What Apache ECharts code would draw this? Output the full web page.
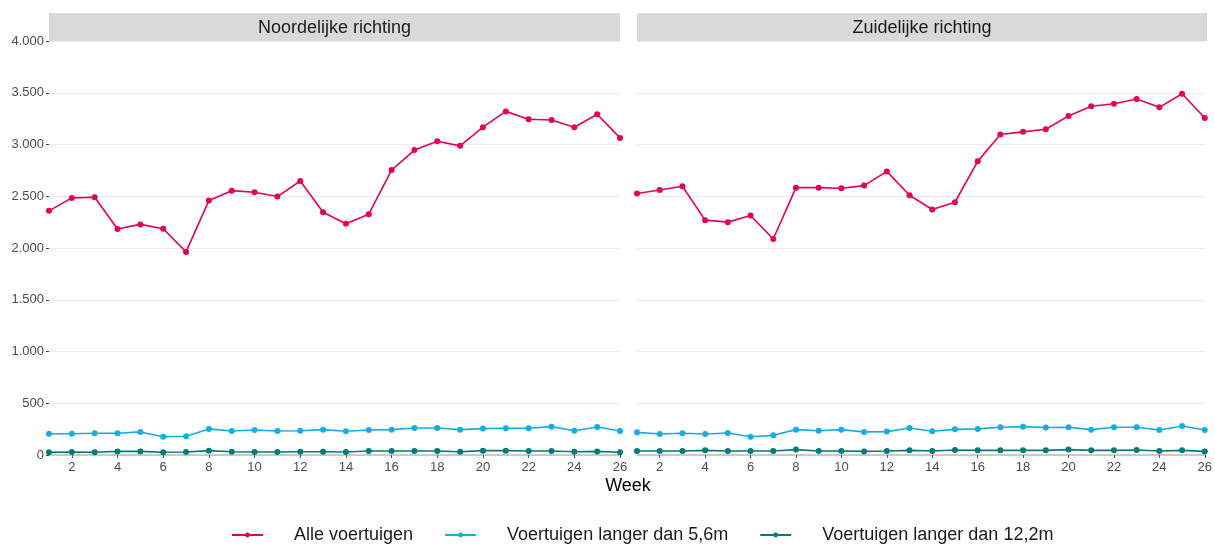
<!DOCTYPE html>
<html lang="nl">
<head>
    <meta charset="UTF-8">
    <title>Voertuigen per week</title>
    <script src="https://cdn.jsdelivr.net/npm/echarts@6/dist/echarts.min.js"></script>
    <style>
        body { margin: 0; background: #fff; }
        #main { width: 1215px; height: 545px; }
    </style>
</head>
<body>
<div id="main"></div>
<script type="text/javascript">
// weken
let weeks = [];
for (let w = 1; w <= 26; w++) weeks.push(w);

let panels = ['Noordelijke richting', 'Zuidelijke richting'];
let seriesNames = ['Alle voertuigen', 'Voertuigen langer dan 5,6m', 'Voertuigen langer dan 12,2m'];

// noordelijke richting
let noordAlle = [2359, 2484, 2490, 2183, 2228, 2186, 1962, 2458, 2554, 2538, 2497, 2647, 2346,
    2234, 2327, 2753, 2946, 3032, 2987, 3167, 3320, 3244, 3237, 3167, 3292, 3064];
let noord56 = [206, 206, 210, 210, 223, 177, 181, 252, 232, 242, 232, 235, 245,
    229, 242, 245, 261, 261, 245, 255, 258, 258, 274, 235, 271, 232];
let noord122 = [26, 29, 26, 35, 35, 26, 29, 42, 32, 29, 29, 32, 32,
    29, 39, 39, 39, 39, 32, 42, 42, 39, 39, 32, 35, 26];

// zuidelijke richting
let zuidAlle = [2526, 2561, 2596, 2269, 2250, 2314, 2087, 2583, 2583, 2577, 2603, 2740, 2510,
    2372, 2442, 2837, 3096, 3122, 3147, 3276, 3369, 3394, 3439, 3359, 3490, 3256];
let zuid56 = [219, 203, 210, 203, 213, 177, 190, 245, 235, 245, 223, 226, 261,
    229, 248, 252, 268, 274, 265, 268, 245, 268, 268, 242, 281, 242];
let zuid122 = [39, 39, 39, 45, 39, 39, 39, 52, 39, 39, 35, 39, 45,
    39, 48, 45, 45, 45, 45, 52, 45, 45, 48, 39, 45, 35];

let colors = ['#E5005B', '#14ADE6', '#007B7B'];

function fmt(v) {
    return String(v).replace(/\B(?=(\d{3})+(?!\d))/g, '.');
}

let myChart = echarts.init(document.getElementById('main'));

function xAxisFor(idx) {
    return {
        type: 'category',
        gridIndex: idx,
        data: weeks,
        boundaryGap: false,
        axisLine: { show: true, lineStyle: { color: '#BDBDBD', width: 1.5 } },
        axisTick: {
            show: true,
            length: 3,
            interval: function (i) { return i % 2 === 1; },
            lineStyle: { color: '#555' }
        },
        axisLabel: {
            interval: function (i) { return i % 2 === 1; },
            color: '#4D4D4D',
            fontSize: 13,
            fontFamily: 'Liberation Sans',
            margin: 6
        },
        splitLine: { show: false }
    };
}

function yAxisFor(idx) {
    return {
        type: 'value',
        gridIndex: idx,
        min: 0,
        max: 4000,
        interval: 500,
        axisLine: { show: false },
        axisTick: { show: idx === 0, length: 3, lineStyle: { color: '#444' } },
        axisLabel: {
            show: idx === 0,
            color: '#4D4D4D',
            fontSize: 13,
            fontFamily: 'Liberation Sans',
            margin: 5,
            formatter: function (v) { return fmt(v); }
        },
        splitLine: { show: true, lineStyle: { color: '#EBEBEB', width: 1 } }
    };
}

function lineSeries(name, data, color, idx) {
    return {
        name: name,
        type: 'line',
        xAxisIndex: idx,
        yAxisIndex: idx,
        data: data,
        symbol: 'circle',
        symbolSize: 6,
        showSymbol: true,
        itemStyle: { color: color },
        lineStyle: { color: color, width: 1.6 },
        z: 3
    };
}

let option = {
    backgroundColor: '#fff',
    animation: false,
    color: colors,
    grid: [
        { left: 49, right: 595, top: 41, bottom: 90 },
        { left: 637, right: 8, top: 41, bottom: 90 }
    ],
    xAxis: [xAxisFor(0), xAxisFor(1)],
    yAxis: [yAxisFor(0), yAxisFor(1)],
    legend: {
        data: seriesNames,
        top: 521,
        left: 226,
        itemWidth: 31,
        itemHeight: 6,
        itemGap: 31,
        textStyle: { color: '#1A1A1A', fontSize: 18, fontFamily: 'Liberation Sans', padding: [0, 0, 0, 26] }
    },
    graphic: [
        { type: 'rect', shape: { x: 49, y: 13, width: 571, height: 28 }, style: { fill: '#D9D9D9' } },
        { type: 'rect', shape: { x: 637, y: 13, width: 570, height: 28 }, style: { fill: '#D9D9D9' } },
        { type: 'text', x: 334.5, y: 28, style: { text: panels[0], fill: '#1A1A1A', fontSize: 18,
            fontFamily: 'Liberation Sans', textAlign: 'center', textVerticalAlign: 'middle' } },
        { type: 'text', x: 922, y: 28, style: { text: panels[1], fill: '#1A1A1A', fontSize: 18,
            fontFamily: 'Liberation Sans', textAlign: 'center', textVerticalAlign: 'middle' } },
        { type: 'text', x: 628, y: 486, style: { text: 'Week', fill: '#000', fontSize: 18,
            fontFamily: 'Liberation Sans', textAlign: 'center', textVerticalAlign: 'middle' } }
    ],
    series: [
        lineSeries(seriesNames[2], noord122, colors[2], 0),
        lineSeries(seriesNames[1], noord56, colors[1], 0),
        lineSeries(seriesNames[0], noordAlle, colors[0], 0),
        lineSeries(seriesNames[2], zuid122, colors[2], 1),
        lineSeries(seriesNames[1], zuid56, colors[1], 1),
        lineSeries(seriesNames[0], zuidAlle, colors[0], 1)
    ]
};

myChart.setOption(option);
</script>
</body>
</html>
